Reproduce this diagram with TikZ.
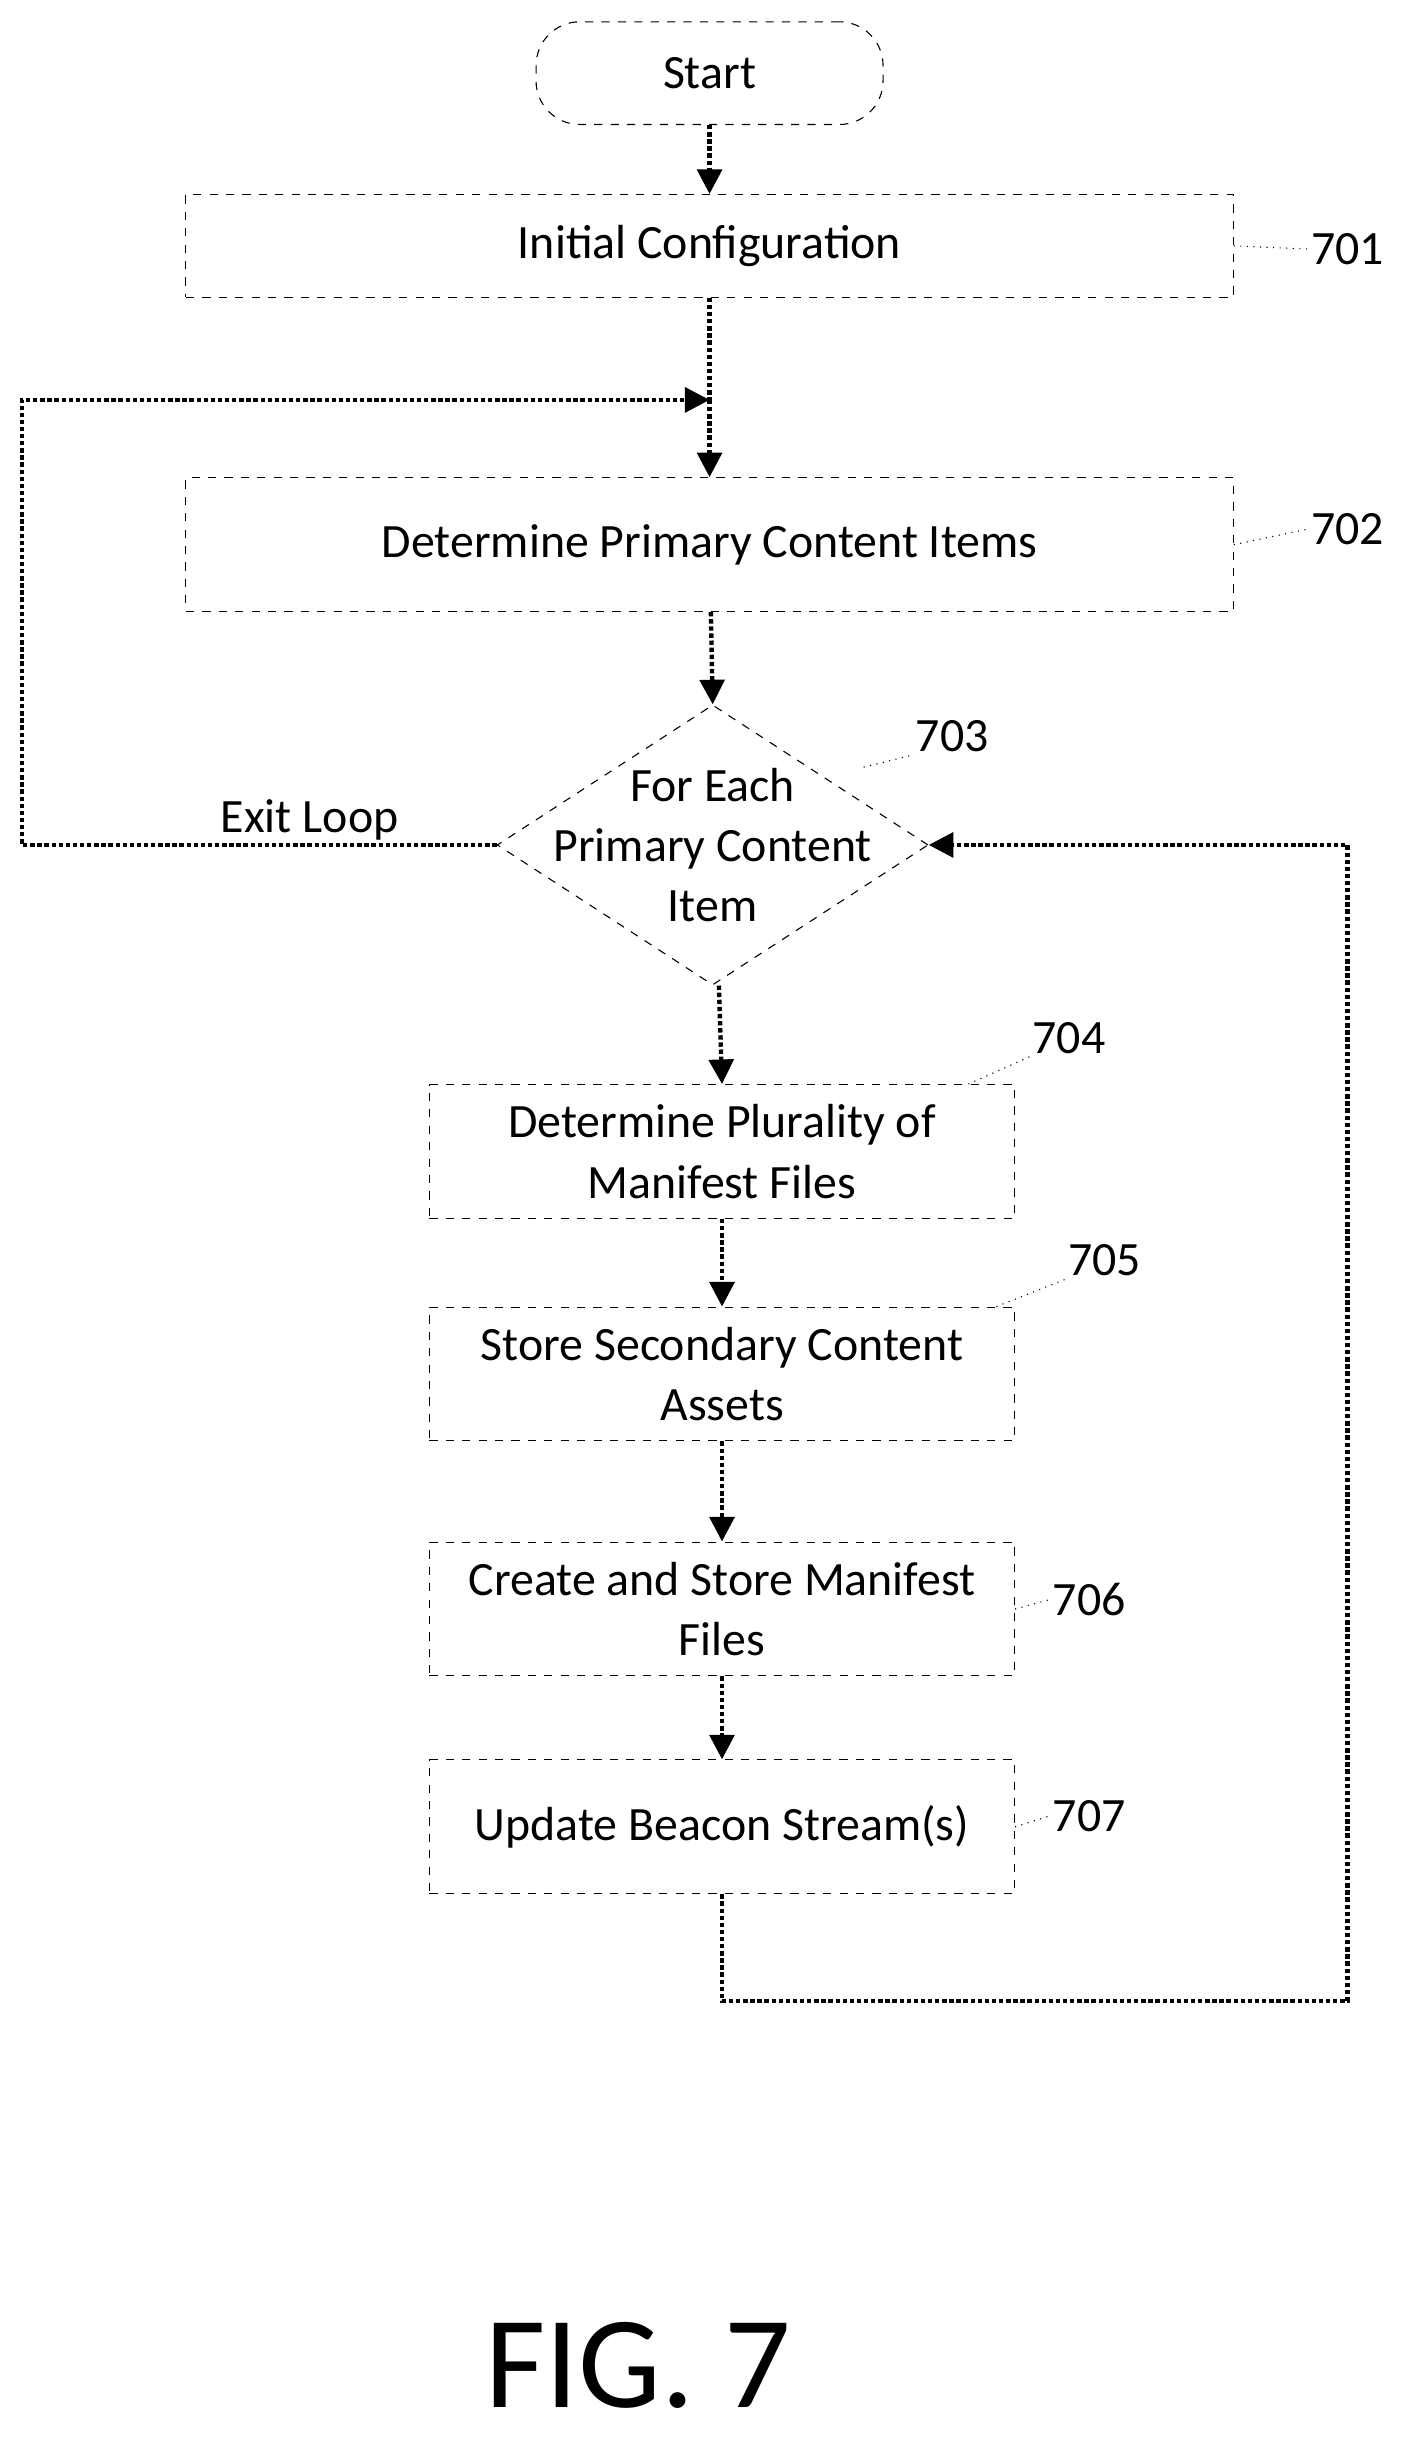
\documentclass[tikz,border=0pt]{standalone}
\usepackage{fontspec}
\setmainfont{Carlito}
\usetikzlibrary{arrows.meta,shapes.geometric}
\tikzstyle{stage}=[draw, dashed, thin, align=center, font=\fontsize{17.5}{22}\selectfont, inner sep=0pt]
\tikzstyle{flow}=[draw, densely dotted, line width=1.6pt, -{Triangle[width=9pt,length=9pt]}]
\tikzstyle{line}=[draw, densely dotted, line width=1.6pt]
\tikzstyle{ref}=[font=\fontsize{17.5}{22}\selectfont, inner sep=1pt]
\tikzstyle{lead}=[draw, dotted, thin]
\begin{document}
\begin{tikzpicture}[x=0.02cm, y=-0.02cm]
	\useasboundingbox (0,0) rectangle (905,1570);
	% Steps of the flow
	\node[stage, rounded corners=16pt, minimum width=223*0.02cm, minimum height=66*0.02cm] (start) at (456,47) {Start};
	\node[stage, minimum width=673*0.02cm, minimum height=66*0.02cm] (s701) at (456,158) {Initial Configuration};
	\node[stage, minimum width=673*0.02cm, minimum height=86*0.02cm] (s702) at (456,350) {Determine Primary Content Items};
	\node[stage, diamond, aspect=1.54, minimum width=277*0.02cm, minimum height=180*0.02cm] (s703) at (458,543) {};
	\node[stage, draw=none] (s703text) at (s703) {For Each\\Primary Content\\Item};
	\foreach \name/\ypos/\txt in {
		s704/740/{Determine Plurality of\\Manifest Files},
		s705/883/{Store Secondary Content\\Assets},
		s706/1034/{Create and Store Manifest\\Files},
		s707/1174/{Update Beacon Stream(s)}}
	\node[stage, minimum width=376*0.02cm, minimum height=86*0.02cm] (\name) at (464,\ypos) {\txt};
	
	% Reference numerals
	\node[ref] (r701) at (866,160) {701};
	\node[ref] (r702) at (866,340) {702};
	\node[ref] (r703) at (612,473) {703};
	\node[ref] (r704) at (687,667) {704};
	\node[ref] (r705) at (710,810) {705};
	\node[ref] (r706) at (700,1028) {706};
	\node[ref] (r707) at (700,1167) {707};
	\path[lead] (s701.east) -- (r701.west);
	\path[lead] (s702.east) -- (r702.west);
	\path[lead] (555,493) -- (r703.south west);
	\path[lead] (s704.north east) ++(-30,0) -- (r704.south west);
	\path[lead] (s705.north east) ++(-12,0) -- (r705.south west);
	\path[lead] (s706.east) -- (r706.west);
	\path[lead] (s707.east) -- (r707.west);
	
	% Connectors
	\coordinate (join) at (456,257);
	\path[flow] (start) -- (s701);
	\path[line] (s701) -- (join);
	\path[flow] (join) -- (s702);
	\path[flow] (s702) -- (s703.north);
	\path[flow] (s703.south) ++(4,0) -- (s704.north);
	\path[flow] (s704) -- (s705);
	\path[flow] (s705) -- (s706);
	\path[flow] (s706) -- (s707);
	\path[flow] (s703.west) -| (14,257) -- (join);
	\path[flow] (s707.south) |- (866,1286) |- (s703.east);
	\node[ref, anchor=south] (exit) at (199,542) {Exit Loop};
	
	\node[font=\fontsize{48}{58}\selectfont] (fig) at (410,1520) {FIG. 7};
\end{tikzpicture}
\end{document}
